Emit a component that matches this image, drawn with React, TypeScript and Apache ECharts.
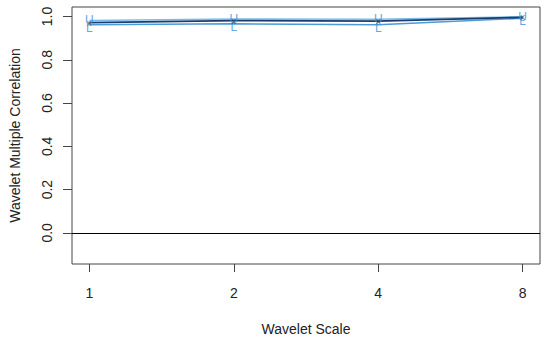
import React, { useEffect, useRef } from "react";
import * as echarts from "echarts";

const scales = [1, 2, 4, 8];
const estimate = [0.972, 0.981, 0.979, 0.996];
const upper = [0.982, 0.989, 0.987, 0.999];
const lower = [0.962, 0.966, 0.962, 0.992];
const yTicks = [0, 0.2, 0.4, 0.6, 0.8, 1.0];

const FONT = "Liberation Sans, Arial, sans-serif";

export default function App() {
  const ref = useRef<HTMLDivElement>(null);
  useEffect(() => {
    if (!ref.current) return;
    const chart = echarts.init(ref.current, null, { renderer: "svg" });
    const xs = scales.map((s) => Math.log2(s));
    const pts = (vals: number[]) => vals.map((v, i) => [xs[i], v]);
    const textSeries = (
      name: string,
      vals: number[],
      txt: string,
      color: string,
      size: number,
      offset: number[]
    ) => ({
      name,
      type: "scatter",
      data: pts(vals),
      symbolSize: 1,
      itemStyle: { color: "rgba(0,0,0,0)" },
      z: 5,
      label: {
        show: true,
        position: "inside",
        formatter: txt,
        color,
        fontSize: size,
        fontFamily: FONT,
        offset,
      },
    });
    chart.setOption({
      animation: false,
      backgroundColor: "#ffffff",
      grid: {
        left: 72,
        right: 10,
        top: 7,
        bottom: 77,
        show: true,
        borderColor: "#444",
        borderWidth: 1,
        backgroundColor: "transparent",
      },
      xAxis: {
        type: "value",
        min: -0.12,
        max: 3.12,
        name: "Wavelet Scale",
        nameLocation: "middle",
        nameGap: 58,
        nameTextStyle: { fontSize: 14, color: "#222", fontFamily: FONT },
        axisLine: { show: false, onZero: false },
        splitLine: { show: false },
        axisTick: {
          show: true,
          length: 8,
          customValues: xs,
          lineStyle: { color: "#444" },
        },
        axisLabel: {
          customValues: xs,
          formatter: (v: number) => String(Math.round(Math.pow(2, v))),
          fontSize: 14,
          color: "#222",
          fontFamily: FONT,
          margin: 22,
        },
      },
      yAxis: {
        type: "value",
        min: -0.144,
        max: 1.044,
        name: "Wavelet Multiple Correlation",
        nameLocation: "middle",
        nameGap: 50,
        nameRotate: 90,
        nameTextStyle: { fontSize: 14, color: "#222", fontFamily: FONT },
        axisLine: { show: false, onZero: false },
        splitLine: { show: false },
        axisTick: {
          show: true,
          length: 9,
          customValues: yTicks,
          lineStyle: { color: "#444" },
        },
        axisLabel: {
          customValues: yTicks,
          formatter: (v: number) => v.toFixed(1),
          rotate: 90,
          fontSize: 14,
          color: "#222",
          fontFamily: FONT,
          margin: 18,
        },
      },
      series: [
        {
          name: "zero",
          type: "line",
          data: [],
          markLine: {
            silent: true,
            symbol: "none",
            label: { show: false },
            lineStyle: { color: "#000", width: 1, type: "solid" },
            data: [{ yAxis: 0 }],
          },
        },
        {
          name: "upper",
          type: "line",
          data: pts(upper),
          symbol: "none",
          lineStyle: { color: "#7cbbe8", width: 1.5 },
        },
        {
          name: "lower",
          type: "line",
          data: pts(lower),
          symbol: "none",
          lineStyle: { color: "#4b9bd8", width: 1.5 },
        },
        {
          name: "estimate",
          type: "line",
          data: pts(estimate),
          symbol: "none",
          lineStyle: { color: "#1c3c6c", width: 1.8 },
        },
        textSeries("U", upper, "U", "#3a8fd6", 12, [0, 0]),
        textSeries("L", lower, "L", "#3a8fd6", 12, [0, 3]),
        textSeries("est", estimate, "x", "#444", 9, [0, 0]),
      ],
    });
    return () => chart.dispose();
  }, []);
  return (
    <div
      ref={ref}
      style={{ position: "absolute", left: 0, top: 0, width: 550, height: 341 }}
    />
  );
}
